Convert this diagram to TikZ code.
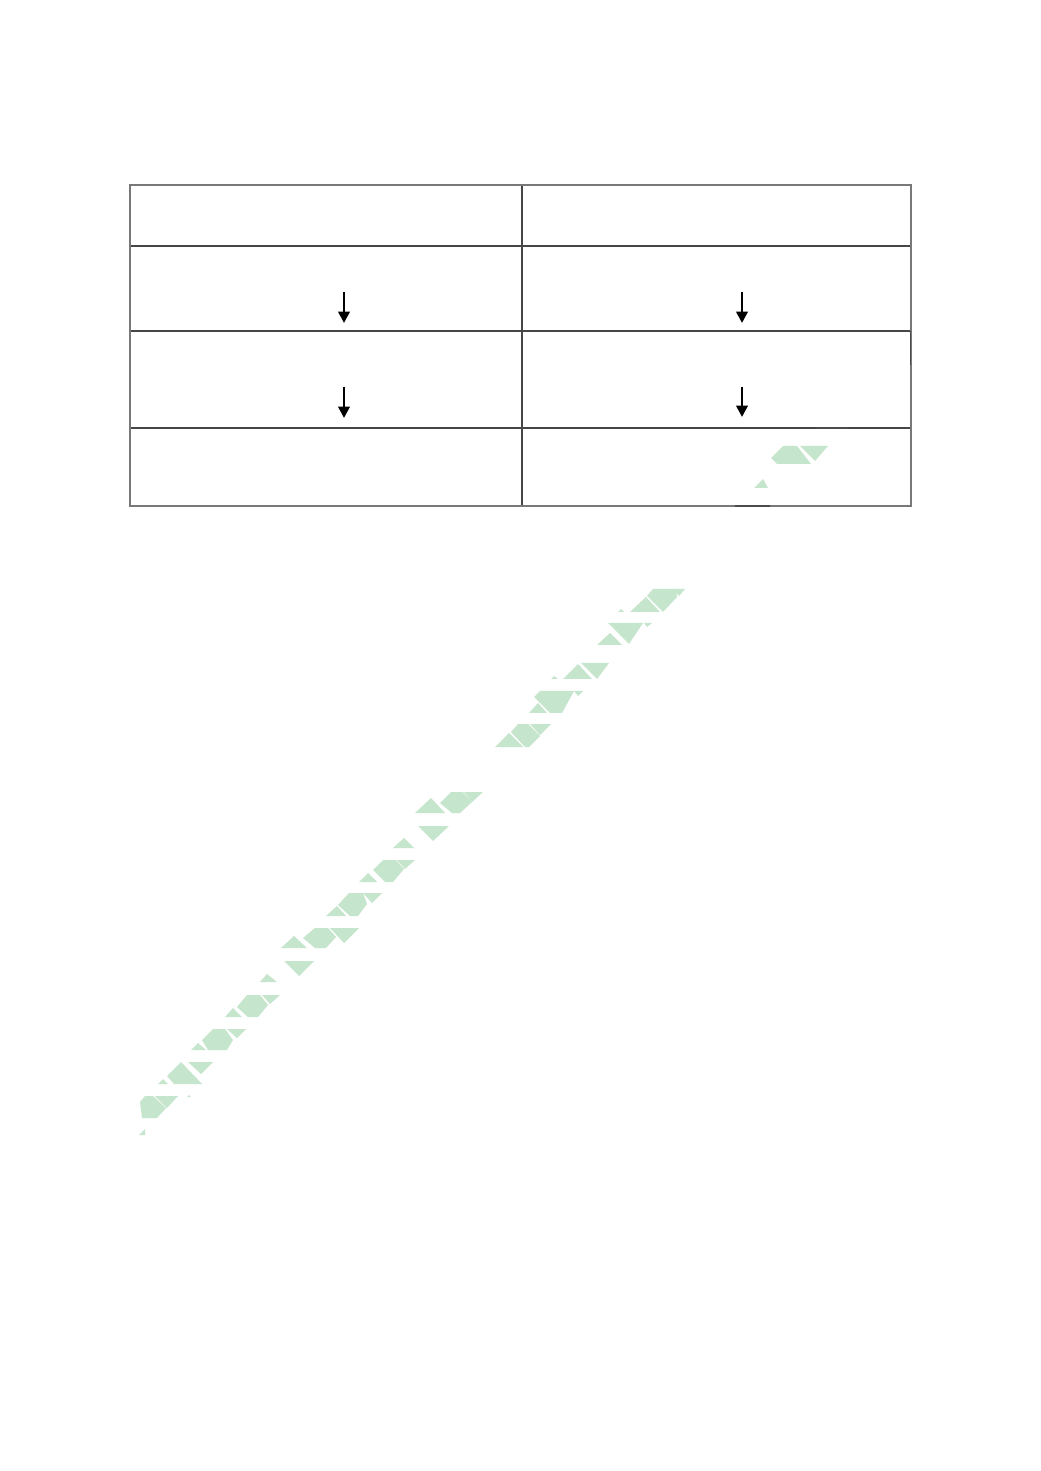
\documentclass[tikz,border=0pt]{standalone}
\usetikzlibrary{arrows.meta}
\definecolor{wmgreen}{RGB}{197,229,204}
\definecolor{gridline}{RGB}{70,70,70}
\definecolor{outerline}{RGB}{120,120,120}
\begin{document}
\begin{tikzpicture}[x=0.01cm,y=-0.01cm,
  wm/.style={fill=wmgreen},
  cellline/.style={draw=gridline,line width=0.35pt},
  outerbox/.style={draw=outerline,line width=0.5pt},
  dark/.style={draw=black!70,line width=0.45pt},
  flowarrow/.style={-{Triangle[length=3.2pt,width=3.2pt]},line width=0.75pt,black}]
\useasboundingbox (0,0) rectangle (1040,1471);
\fill[white] (0,0) rectangle (1040,1471);
% ---------- watermark ----------
\fill[wm] (754,488) -- (763,479) -- (768,488) -- cycle;
\fill[wm] (771,458) -- (783,446) -- (797,446) -- (811,464) -- (777,464) -- cycle;
\fill[wm] (800,446) -- (828,446) -- (815,461) -- cycle;
\fill[wm] (673,589) -- (685,589) -- (679,596) -- cycle;
\fill[wm] (630,612) -- (646,597) -- (660,612) -- cycle;
\fill[wm] (647,596) -- (653,589) -- (676,589) -- (677,597) -- (663,612) -- cycle;
\fill[wm] (618,612) -- (621,609) -- (624,612) -- cycle;
\fill[wm] (608,623) -- (643,623) -- (629,644) -- cycle;
\fill[wm] (597,645) -- (610,633) -- (622,645) -- cycle;
\fill[wm] (644,623) -- (652,623) -- (647,627) -- cycle;
\fill[wm] (563,679) -- (578,664) -- (592,679) -- cycle;
\fill[wm] (581,663) -- (609,663) -- (597,679) -- cycle;
\fill[wm] (551,679) -- (554,676) -- (558,679) -- cycle;
\fill[wm] (534,697) -- (540,691) -- (574,691) -- (562,713) -- (550,713) -- cycle;
\fill[wm] (529,713) -- (538,703) -- (547,713) -- cycle;
\fill[wm] (574,691) -- (583,691) -- (578,696) -- cycle;
\fill[wm] (495,747) -- (509,733) -- (523,747) -- cycle;
\fill[wm] (511,732) -- (518,724) -- (528,724) -- (540,736) -- (529,747) -- (525,747) -- cycle;
\fill[wm] (530,724) -- (551,724) -- (540,735) -- cycle;
\fill[wm] (415,813) -- (431,798) -- (445,813) -- cycle;
\fill[wm] (440,803) -- (451,792) -- (463,792) -- (472,802) -- (460,813) -- (452,813) -- cycle;
\fill[wm] (464,792) -- (483,792) -- (472,802) -- cycle;
\fill[wm] (418,826) -- (449,826) -- (433,841) -- cycle;
\fill[wm] (393,848) -- (404,838) -- (414,848) -- cycle;
\fill[wm] (373,870) -- (383,860) -- (396,860) -- (404,869) -- (393,882) -- (385,882) -- cycle;
\fill[wm] (397,860) -- (415,860) -- (405,869) -- cycle;
\fill[wm] (359,882) -- (368,873) -- (377,882) -- cycle;
\fill[wm] (338,905) -- (349,893) -- (363,893) -- (367,904) -- (358,916) -- (350,916) -- cycle;
\fill[wm] (363,893) -- (382,893) -- (372,903) -- cycle;
\fill[wm] (326,916) -- (337,906) -- (346,916) -- cycle;
\fill[wm] (281,948) -- (294,936) -- (307,948) -- cycle;
\fill[wm] (303,938) -- (315,928) -- (328,928) -- (336,937) -- (326,948) -- (315,948) -- cycle;
\fill[wm] (330,928) -- (359,928) -- (344,943) -- cycle;
\fill[wm] (284,961) -- (314,961) -- (299,976) -- cycle;
\fill[wm] (260,982) -- (267,974) -- (277,982) -- cycle;
\fill[wm] (237,1007) -- (247,995) -- (260,995) -- (268,1005) -- (258,1017) -- (248,1017) -- cycle;
\fill[wm] (262,995) -- (280,995) -- (270,1004) -- cycle;
\fill[wm] (225,1017) -- (233,1008) -- (242,1017) -- cycle;
\fill[wm] (202,1040) -- (213,1029) -- (225,1029) -- (233,1040) -- (227,1050) -- (208,1050) -- cycle;
\fill[wm] (227,1029) -- (246,1029) -- (237,1038) -- cycle;
\fill[wm] (191,1050) -- (198,1043) -- (206,1050) -- cycle;
\fill[wm] (167,1076) -- (181,1062) -- (202,1084) -- (174,1084) -- cycle;
\fill[wm] (188,1062) -- (213,1062) -- (201,1074) -- cycle;
\fill[wm] (158,1084) -- (163,1079) -- (168,1084) -- cycle;
\fill[wm] (140,1102) -- (145,1096) -- (153,1096) -- (166,1108) -- (157,1118) -- (142,1118) -- cycle;
\fill[wm] (155,1096) -- (178,1096) -- (167,1108) -- cycle;
\fill[wm] (187,1097) -- (189,1095) -- (191,1097) -- cycle;
\fill[wm] (139,1135) -- (145,1129) -- (145,1135) -- cycle;
% ---------- table ----------
\coordinate (tl) at (130,185);
\coordinate (br) at (911,506);
\draw[cellline] (130,246) -- (911,246);
\draw[cellline] (130,331) -- (911,331);
\draw[cellline] (130,428) -- (911,428);
\draw[cellline] (522,185) -- (522,506);
\draw[outerbox] (tl) rectangle (br);
% darker fragments
\draw[dark] (910.5,331) -- (910.5,365);
\draw[dark] (817,428) -- (847,428);
\draw[dark] (735,506) -- (770,506);
% ---------- arrows ----------
\coordinate (la1) at (344,292); \coordinate (lb1) at (344,323);
\coordinate (la2) at (344,387); \coordinate (lb2) at (344,418);
\coordinate (ra1) at (742,292); \coordinate (rb1) at (742,323);
\coordinate (ra2) at (742,387); \coordinate (rb2) at (742,417);
\draw[flowarrow] (la1) -- (lb1);
\draw[flowarrow] (la2) -- (lb2);
\draw[flowarrow] (ra1) -- (rb1);
\draw[flowarrow] (ra2) -- (rb2);
\end{tikzpicture}
\end{document}
